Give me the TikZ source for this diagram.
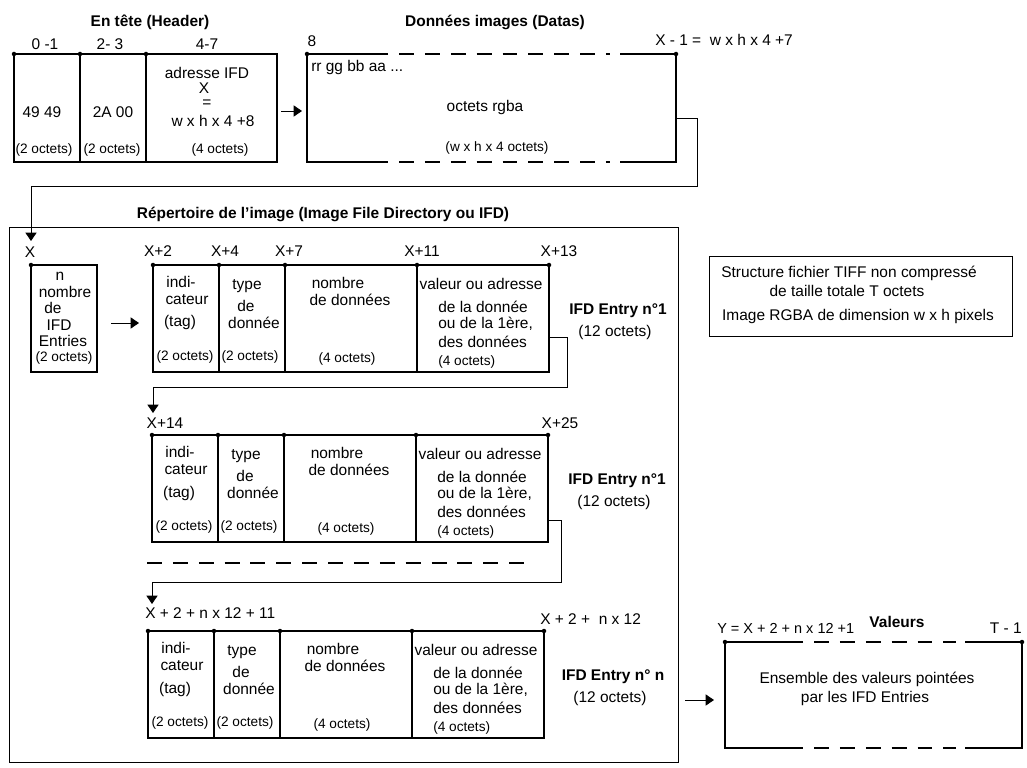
\documentclass[tikz,border=0pt]{standalone}
\usepackage{fontspec}
\setmainfont{Liberation Sans}
\usetikzlibrary{arrows.meta,positioning,calc}

\tikzset{
  boxline/.style={line width=1.4pt},
  link/.style={line width=0.7pt},
  arr/.style={line width=0.7pt,-{Triangle[length=6pt,width=8pt]}},
  dashside/.style={line width=1.4pt,dash pattern=on 10.6pt off 7.8pt},
  txt/.style={inner sep=0pt,font=\fontsize{11}{13}\selectfont},
  small/.style={inner sep=0pt,font=\fontsize{9.7}{11}\selectfont},
  ttl/.style={inner sep=0pt,font=\fontsize{11}{13}\selectfont\bfseries},
}

\begin{document}
\begin{tikzpicture}[x=0.025cm,y=-0.025cm]
  \useasboundingbox (0,0) rectangle (1027,768);

  % Header
  \node[ttl] (hdrtitle) at (150,22) {En tête (Header)};
  \draw[boxline] (14,54) rectangle (277,162);
  \foreach \c in {80,146} \draw[boxline] (\c,54) -- (\c,162);
  \foreach \c in {14,80,146} \fill (\c,54) circle (1.6pt);
  \foreach \n/\x/\t in {o1/45/0 -1, o2/110/2- 3, o3/207/4-7}
    \node[txt] (hdr-\n) at (\x,44) {\t};
  \node[txt] (hdr-v1) at (42,112) {49 49};
  \node[txt] (hdr-v2) at (113,112) {2A 00};
  \node[txt] (hdr-v3) at (207,73) {adresse IFD};
  \node[txt] (hdr-v4) at (204,88) {X};
  \node[txt] (hdr-v5) at (207,104) {=};
  \node[txt] (hdr-v6) at (213,121) {w x h x 4 +8};
  \node[small] (hdr-s1) at (44,150) {(2 octets)};
  \node[small] (hdr-s2) at (112,150) {(2 octets)};
  \node[small] (hdr-s3) at (220,150) {(4 octets)};

  % Datas
  \node[ttl] (dattitle) at (495,22) {Données images (Datas)};
  \node[txt] (dat-start) at (312,41) {8};
  \node[txt,anchor=west] (dat-end) at (655,40) {X - 1 =\ \ w x h x 4 +7};
  \draw[boxline] (388,54) -- (307,54) -- (307,162) -- (388,162);
  \draw[boxline] (620,54) -- (676,54) -- (676,162) -- (620,162);
  \draw[dashside] (399,54) -- (610,54);
  \draw[dashside] (399,162) -- (610,162);
  \foreach \c in {307,676} \fill (\c,54) circle (1.6pt);
  \node[txt,anchor=west] (dat-a) at (311,68) {rr gg bb aa ...};
  \node[txt] (dat-b) at (485,108) {octets rgba};
  \node[small] (dat-c) at (497,148) {(w x h x 4 octets)};

  % IFD
  \node[ttl] (ifdtitle) at (323,214) {Répertoire de l'image (Image File Directory ou IFD)};
  \draw[link] (9,227) rectangle (678,762);
  \node[txt] (ifd-x) at (30,252) {X};
  \draw[boxline] (31,265) rectangle (97,372);
  \fill (31,265) circle (1.6pt);
  \node[txt] (nb-1) at (60,276) {n};
  \node[txt] (nb-2) at (65,292) {nombre};
  \node[txt] (nb-3) at (53,308) {de};
  \node[txt] (nb-4) at (59,325) {IFD};
  \node[txt] (nb-5) at (63,341) {Entries};
  \node[small] (nb-6) at (64,358) {(2 octets)};

  % Entries
  \foreach \r/\xo/\yt/\nm in {1/153/265/IFD Entry n°1, 2/152/435/IFD Entry n°1, 3/148/631/IFD Entry n° n} {
    \begin{scope}[shift={(\xo,\yt)}]
      \draw[boxline] (0,0) rectangle (396,107);
      \foreach \c in {66,132,264} \draw[boxline] (\c,0) -- (\c,107);
      \foreach \c in {0,66,132,264,396} \fill (\c,0) circle (1.6pt);
      \node[txt] (e\r-a1) at (28,17) {indi-};
      \node[txt] (e\r-a2) at (34,35) {cateur};
      \node[txt] (e\r-a3) at (27,58) {(tag)};
      \node[small] (e\r-a4) at (32,92) {(2 octets)};
      \node[txt] (e\r-b1) at (94,21) {type};
      \node[txt] (e\r-b2) at (93,41) {de};
      \node[txt] (e\r-b3) at (101,58) {donnée};
      \node[small] (e\r-b4) at (97,92) {(2 octets)};
      \node[txt] (e\r-c1) at (185,18) {nombre};
      \node[txt] (e\r-c2) at (197,35) {de données};
      \node[small] (e\r-c3) at (194,94) {(4 octets)};
      \node[txt] (e\r-d1) at (328,19) {valeur ou adresse};
      \node[txt,anchor=west] (e\r-d2) at (285,42) {de la donnée};
      \node[txt,anchor=west] (e\r-d3) at (285,59) {ou de la 1ère,};
      \node[txt,anchor=west] (e\r-d4) at (285,77) {des données};
      \node[small,anchor=west] (e\r-d5) at (285,97) {(4 octets)};
      \node[ttl] (e\r-name) at (465,46) {\nm};
      \node[txt] (e\r-size) at (462,67) {(12 octets)};
    \end{scope}
  }
  \foreach \n/\x/\t in {p1/158/X+2, p2/225/X+4, p3/289/X+7, p4/422/X+11, p5/559/X+13}
    \node[txt] (e1-\n) at (\x,251) {\t};
  \node[txt] (e2-p1) at (165,423) {X+14};
  \node[txt] (e2-p5) at (560,423) {X+25};
  \node[txt,anchor=west] (e3-p1) at (145,613) {X + 2 + n x 12 + 11};
  \node[txt,anchor=west] (e3-p5) at (540,619) {X + 2 +\ \ n x 12};
  \draw[dashside] (147,563) -- (531,563);

  % Info
  \draw[link] (709,256) rectangle (1012,336);
  \node[txt] (info-1) at (849,273) {Structure fichier TIFF non compressé};
  \node[txt] (info-2) at (847,291) {de taille totale T octets};
  \node[txt] (info-3) at (858,317) {Image RGBA de dimension w x h pixels};

  % Valeurs
  \node[ttl] (valtitle) at (897,622) {Valeurs};
  \node[txt,anchor=west,font=\fontsize{10.3}{12}\selectfont] (val-start) at (717,628) {Y = X + 2 + n x 12 +1};
  \node[txt,anchor=east] (val-end) at (1022,628) {T - 1};
  \draw[boxline] (803,642) -- (725,642) -- (725,748) -- (803,748);
  \draw[boxline] (965,642) -- (1022,642) -- (1022,748) -- (965,748);
  \draw[dashside] (814,642) -- (956,642);
  \draw[dashside] (814,748) -- (956,748);
  \foreach \c in {725,1022} \fill (\c,642) circle (1.6pt);
  \node[txt] (val-a) at (867,679) {Ensemble des valeurs pointées};
  \node[txt] (val-b) at (865,698) {par les IFD Entries};

  % Links
  \coordinate (hdr-out) at (281,111);
  \coordinate (dat-in) at (302,111);
  \coordinate (dat-out) at (676,118);
  \coordinate (dat-turn) at (697,186);
  \coordinate (ifd-in) at (31,241);
  \coordinate (nb-out) at (111,323);
  \coordinate (e1-in) at (139,323);
  \coordinate (e1-out) at (549,337);
  \coordinate (e1-turn) at (567,387);
  \coordinate (e2-in) at (153,413);
  \coordinate (e2-out) at (548,520);
  \coordinate (e2-turn) at (561,582);
  \coordinate (e3-in) at (152,604);
  \coordinate (e3-out) at (685,700);
  \coordinate (val-in) at (714,700);
  \draw[arr] (hdr-out) -- (dat-in);
  \draw[arr] (dat-out) -| (dat-turn) -| (ifd-in);
  \draw[arr] (nb-out) -- (e1-in);
  \draw[arr] (e1-out) -| (e1-turn) -| (e2-in);
  \draw[arr] (e2-out) -| (e2-turn) -| (e3-in);
  \draw[arr] (e3-out) -- (val-in);
\end{tikzpicture}
\end{document}
